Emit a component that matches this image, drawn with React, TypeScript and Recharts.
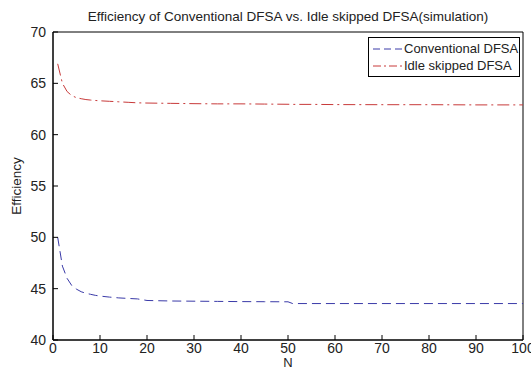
import { LineChart, Line, XAxis, YAxis, ReferenceArea } from 'recharts';

// sample positions N and efficiency readings (%)
const nValues = [1, 2, 3, 4, 5, 6, 7, 8, 9, 10, 12, 14, 16, 18, 20, 25, 30, 35, 40, 45, 50, 51, 55, 60, 70, 80, 90, 100];
const conventional = [50.0, 47.2, 46.0, 45.3, 44.95, 44.7, 44.55, 44.45, 44.35, 44.28, 44.18, 44.1, 44.05, 44.0, 43.85, 43.8, 43.78, 43.76, 43.74, 43.73, 43.72, 43.55, 43.55, 43.55, 43.55, 43.55, 43.55, 43.55];
const idleSkipped = [66.9, 65.0, 64.2, 63.8, 63.6, 63.5, 63.42, 63.37, 63.33, 63.3, 63.25, 63.2, 63.15, 63.1, 63.08, 63.05, 63.02, 63.0, 63.0, 62.98, 62.96, 62.95, 62.95, 62.93, 62.92, 62.92, 62.9, 62.9];

const xTicks = [0, 10, 20, 30, 40, 50, 60, 70, 80, 90, 100];
const yTicks = [40, 45, 50, 55, 60, 65, 70];

const data = nValues.map((n, i) => ({ n, conventional: conventional[i], idle: idleSkipped[i] }));

const FONT = '"Liberation Sans", Arial, sans-serif';
const BLUE = '#3a3aa8';
const RED = '#c83a3a';

const XTick = ({ x, y, payload }: any) => (
  <g>
    <line x1={x} y1={y} x2={x} y2={y - 5} stroke="#000" />
    <text x={x} y={y + 13} textAnchor="middle" fontSize={14} fontFamily={FONT} fill="#222">
      {payload.value}
    </text>
  </g>
);

const YTick = ({ x, y, payload }: any) => (
  <g>
    <line x1={x} y1={y} x2={x + 5} y2={y} stroke="#000" />
    <text x={x - 7} y={y + 5} textAnchor="end" fontSize={14} fontFamily={FONT} fill="#222">
      {payload.value}
    </text>
  </g>
);

const LegendBox = () => (
  <div
    style={{
      position: 'absolute',
      left: 368,
      top: 37,
      border: '1px solid #000',
      background: '#fff',
      width: 150,
      padding: '2px 0',
      fontFamily: FONT,
      fontSize: 13,
      color: '#222',
    }}
  >
    <div style={{ display: 'flex', alignItems: 'center', height: 17 }}>
      <svg width={35} height={10}>
        <line x1={4} y1={5} x2={34} y2={5} stroke={BLUE} strokeDasharray="7 4" />
      </svg>
      <span>Conventional DFSA</span>
    </div>
    <div style={{ display: 'flex', alignItems: 'center', height: 17 }}>
      <svg width={35} height={10}>
        <line x1={4} y1={5} x2={34} y2={5} stroke={RED} strokeDasharray="8 3 2 3" />
      </svg>
      <span>Idle skipped DFSA</span>
    </div>
  </div>
);

export default function App() {
  return (
    <div style={{ position: 'absolute', left: 0, top: 0, width: 531, height: 370, background: '#fff' }}>
      <div
        style={{
          position: 'absolute',
          top: 9,
          left: 53,
          width: 470,
          textAlign: 'center',
          fontFamily: FONT,
          fontSize: 13.5,
          color: '#222',
        }}
      >
        Efficiency of Conventional DFSA vs. Idle skipped DFSA(simulation)
      </div>
      <LineChart width={531} height={370} data={data} margin={{ top: 32, right: 8, left: 0, bottom: 0 }}>
        <XAxis
          dataKey="n"
          type="number"
          domain={[0, 100]}
          ticks={xTicks}
          interval={0}
          height={30}
          tickSize={0}
          tickMargin={0}
          tick={<XTick />}
          axisLine={{ stroke: '#000' }}
          label={{ value: 'N', position: 'insideBottom', offset: 3, fontSize: 13, fontFamily: FONT, fill: '#222' }}
        />
        <YAxis
          type="number"
          domain={[40, 70]}
          ticks={yTicks}
          interval={0}
          width={53}
          tickSize={0}
          tickMargin={0}
          tick={<YTick />}
          axisLine={{ stroke: '#000' }}
          label={{ value: 'Efficiency', angle: -90, position: 'insideLeft', offset: 16, style: { textAnchor: 'middle' }, fontSize: 13.5, fontFamily: FONT, fill: '#222' }}
        />
        <ReferenceArea x1={0} x2={100} y1={40} y2={70} fill="none" stroke="#000" ifOverflow="visible" />
        <Line
          dataKey="conventional"
          type="linear"
          stroke={BLUE}
          strokeWidth={1}
          strokeDasharray="9 5"
          dot={false}
          isAnimationActive={false}
        />
        <Line
          dataKey="idle"
          type="linear"
          stroke={RED}
          strokeWidth={1}
          strokeDasharray="12 4 2 4"
          dot={false}
          isAnimationActive={false}
        />
      </LineChart>
      <LegendBox />
    </div>
  );
}
